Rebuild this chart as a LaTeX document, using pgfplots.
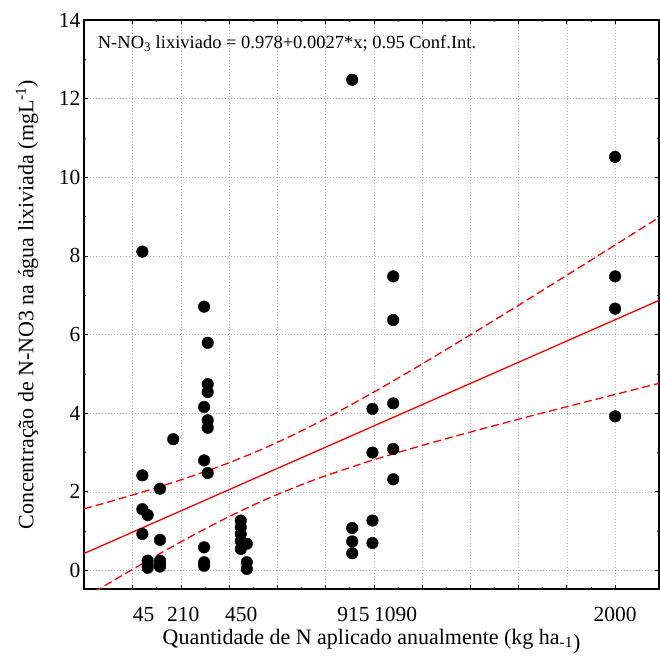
\documentclass[border=0pt]{standalone}
\usepackage{fontspec}
\setmainfont{Liberation Serif}
\usepackage{pgfplots}
\pgfplotsset{compat=1.18}

\begin{document}
\begin{tikzpicture}
\begin{axis}[
    name=ax,
    scale only axis,
    width=575pt, height=569pt,
    xmin=-202, xmax=2182,
    ymin=-0.47, ymax=14,
    xtick={0,200,...,2000},
    xticklabels={{},{},{},{},{},{},{},{},{},{},{}},
    minor x tick num=1,
    ytick={0,2,...,14},
    minor y tick num=1,
    grid=major,
    major grid style={dash pattern=on 1pt off 2pt, gray!60, line width=0.6pt},
    axis line style={line width=1.3pt},
    tick style={black, line width=0.8pt},
    major tick length=4pt, minor tick length=2.5pt,
    tick align=inside,
    extra x ticks={45,210,450,915,1090,2000},
    extra x tick labels={45,210,450,915,1090,2000},
    extra x tick style={grid=none, major tick length=0pt,
        xticklabel style={yshift=-15pt}},
    /pgf/number format/assume math mode=true,
    ticklabel style={font=\fontsize{21.5}{24}\selectfont},
    label style={font=\fontsize{22}{25}\selectfont},
    xlabel shift=0pt,
    ylabel shift=14pt,
    xlabel={Quantidade de N aplicado anualmente (kg ha\textsubscript{-1}\raisebox{-5pt}{)}},
    ylabel={Concentração de N-NO3 na água lixiviada (mgL\textsuperscript{-1})},
]

% fitted line
\addplot[red, line width=1.3pt] coordinates {(-202,0.433) (2182,6.869)};

% 0.95 confidence band
\addplot[red, line width=1.3pt, dash pattern=on 8pt off 4pt, smooth] coordinates {
    (-202,1.57) (-100,1.744) (0,1.923) (100,2.109) (200,2.306) (300,2.516)
    (400,2.743) (500,2.991) (600,3.261) (700,3.553) (800,3.866) (1000,4.539)
    (1200,5.254) (1400,5.994) (1600,6.747) (1800,7.510) (2000,8.278) (2182,8.98)
};
\addplot[red, line width=1.3pt, dash pattern=on 8pt off 4pt, smooth] coordinates {
    (-202,-0.70) (-100,-0.328) (0,0.033) (100,0.387) (200,0.730) (300,1.060)
    (400,1.373) (500,1.665) (600,1.935) (700,2.183) (800,2.410) (1000,2.817)
    (1200,3.182) (1400,3.522) (1600,3.849) (1800,4.166) (2000,4.478) (2182,4.76)
};

% observations
\addplot[only marks, mark=*, mark size=5.8pt, black] coordinates {
    (40,8.11) (40,2.42) (40,1.56) (40,0.93)
    (62,1.41) (62,0.25) (62,0.15) (62,0.07)
    (113,2.08) (113,0.78) (113,0.25) (113,0.15) (113,0.10)
    (168,3.34)
    (296,6.71) (296,4.16) (296,2.80) (296,0.59) (296,0.21) (296,0.12)
    (311,5.79) (311,4.74) (311,4.54) (311,3.82) (311,3.63) (311,2.48)
    (448,1.27) (448,1.10) (448,0.93) (448,0.75) (448,0.55)
    (473,0.68) (473,0.21) (473,0.04)
    (910,12.48) (910,1.08) (910,0.74) (910,0.44)
    (994,4.11) (994,3.00) (994,1.27) (994,0.70)
    (1080,7.48) (1080,6.37) (1080,4.25) (1080,3.09) (1080,2.32)
    (2000,10.52) (2000,7.48) (2000,6.66) (2000,3.92)
};

\node[anchor=west, font=\fontsize{18.5}{21}\selectfont] at (rel axis cs:0.018,0.958)
    {N-NO\textsubscript{3} lixiviado = 0.978+0.0027*x; 0.95 Conf.Int.};
\end{axis}
\pgfresetboundingbox
\path[use as bounding box] ([shift={(-84pt,-67pt)}]ax.south west)
    rectangle ([shift={(1pt,20pt)}]ax.north east);
\end{tikzpicture}
\end{document}
